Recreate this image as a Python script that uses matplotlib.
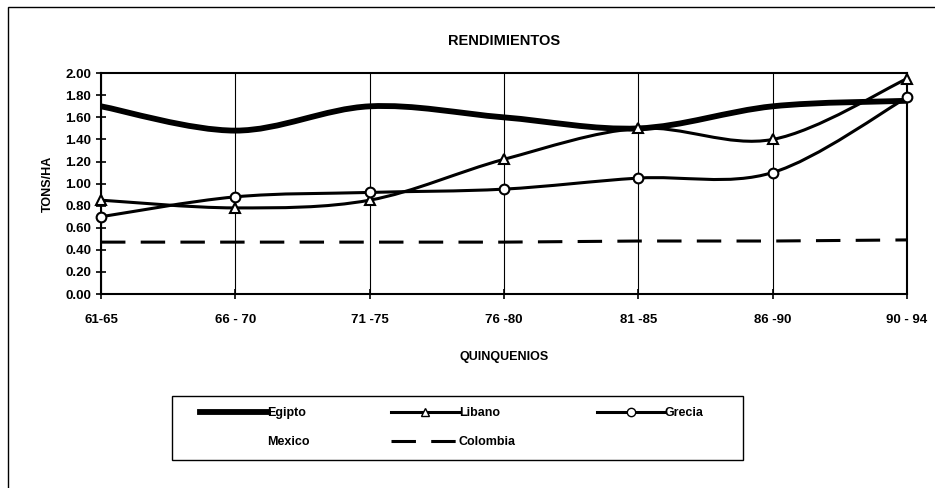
import matplotlib
matplotlib.use("Agg")
import matplotlib.pyplot as plt
from matplotlib.path import Path
from matplotlib.patches import PathPatch, Rectangle
from matplotlib.lines import Line2D

plt.rcParams['font.family'] = ['Liberation Sans', 'DejaVu Sans']

# Data
periodos = ['61-65', '66 - 70', '71 -75', '76 -80', '81 -85', '86 -90', '90 - 94']
egipto = [1.70, 1.48, 1.70, 1.60, 1.50, 1.70, 1.75]
libano = [0.85, 0.78, 0.85, 1.22, 1.50, 1.40, 1.95]
grecia = [0.70, 0.88, 0.92, 0.95, 1.05, 1.10, 1.78]
colombia = [0.47, 0.47, 0.47, 0.47, 0.48, 0.48, 0.49]


def smooth_path(xs, ys):
    # Excel-style smoothed line: Catmull-Rom segments as cubic Beziers
    pts = list(zip(xs, ys))
    verts = [pts[0]]
    codes = [Path.MOVETO]
    n = len(pts)
    for i in range(n - 1):
        p0 = pts[i - 1] if i > 0 else pts[i]
        p1 = pts[i]
        p2 = pts[i + 1]
        p3 = pts[i + 2] if i + 2 < n else pts[i + 1]
        c1 = (p1[0] + (p2[0] - p0[0]) / 6, p1[1] + (p2[1] - p0[1]) / 6)
        c2 = (p2[0] - (p3[0] - p1[0]) / 6, p2[1] - (p3[1] - p1[1]) / 6)
        verts += [c1, c2, p2]
        codes += [Path.CURVE4] * 3
    return Path(verts, codes)


fig = plt.figure(figsize=(9.35, 4.88), dpi=100)
ax = fig.add_axes([0.108, 0.3975, 0.862, 0.4525])

x = list(range(len(periodos)))

ax.add_patch(PathPatch(smooth_path(x, egipto), fill=False, lw=4.2, color='black', zorder=3))
ax.add_patch(PathPatch(smooth_path(x, libano), fill=False, lw=2.2, color='black', zorder=3))
ax.add_patch(PathPatch(smooth_path(x, grecia), fill=False, lw=2.2, color='black', zorder=3))
ax.plot(x, libano, ls='none', marker='^', ms=7, mfc='white', mec='black', mew=1.5, zorder=4, clip_on=False)
ax.plot(x, grecia, ls='none', marker='o', ms=7, mfc='white', mec='black', mew=1.5, zorder=4, clip_on=False)
ax.plot(x, colombia, color='black', lw=2.2, dashes=(8, 5), zorder=3)

ax.set_xlim(0, len(periodos) - 1)
ax.set_ylim(0, 2.0)
ax.set_yticks([i * 0.2 for i in range(11)])
ax.set_yticklabels(['%.2f' % (i * 0.2) for i in range(11)])
ax.set_xticks(x)
ax.set_xticklabels(periodos)
ax.xaxis.grid(True, color='black', lw=0.8)
ax.tick_params(axis='both', direction='inout', length=7, width=1.2, labelsize=9.5)
ax.tick_params(axis='x', pad=11)
for lab in ax.get_xticklabels() + ax.get_yticklabels():
    lab.set_fontweight('bold')
for s in ax.spines.values():
    s.set_linewidth(1.5)

ax.set_title('RENDIMIENTOS', fontsize=10.5, fontweight='bold', pad=20)
ax.set_ylabel('TONS/HA', fontsize=9, fontweight='bold', labelpad=8)
ax.set_xlabel('QUINQUENIOS', fontsize=9, fontweight='bold', labelpad=18)

handles = [
    Line2D([], [], color='black', lw=4.2),
    Line2D([], [], ls='none'),
    Line2D([], [], color='black', lw=2.2, marker='^', ms=6, mfc='white', mec='black'),
    Line2D([], [], color='black', lw=2.2, dashes=(8, 5)),
    Line2D([], [], color='black', lw=2.2, marker='o', ms=6, mfc='white', mec='black'),
]
labels = ['Egipto', 'Mexico', 'Libano', 'Colombia', 'Grecia']
leg = fig.legend(handles, labels, ncol=3, loc='upper left',
                 bbox_to_anchor=(200 / 935, 1 - 407 / 488),
                 frameon=False, borderpad=0, borderaxespad=0,
                 handlelength=5.4, handletextpad=0.0, labelspacing=1.35, columnspacing=6.5,
                 prop={'weight': 'bold', 'size': 9})

# legend box
fig.patches.append(Rectangle((172 / 935, 1 - 460 / 488), (743 - 172) / 935, 64 / 488,
                             transform=fig.transFigure, fill=False, edgecolor='black', lw=1.0))

# outer chart border (cropped at right and bottom)
fig.patches.append(Rectangle((8 / 935, -0.1), 1.2, 1 - 7 / 488 + 0.1, transform=fig.transFigure,
                             fill=False, edgecolor='black', lw=1.0))

fig.savefig('out.png', dpi=100)
